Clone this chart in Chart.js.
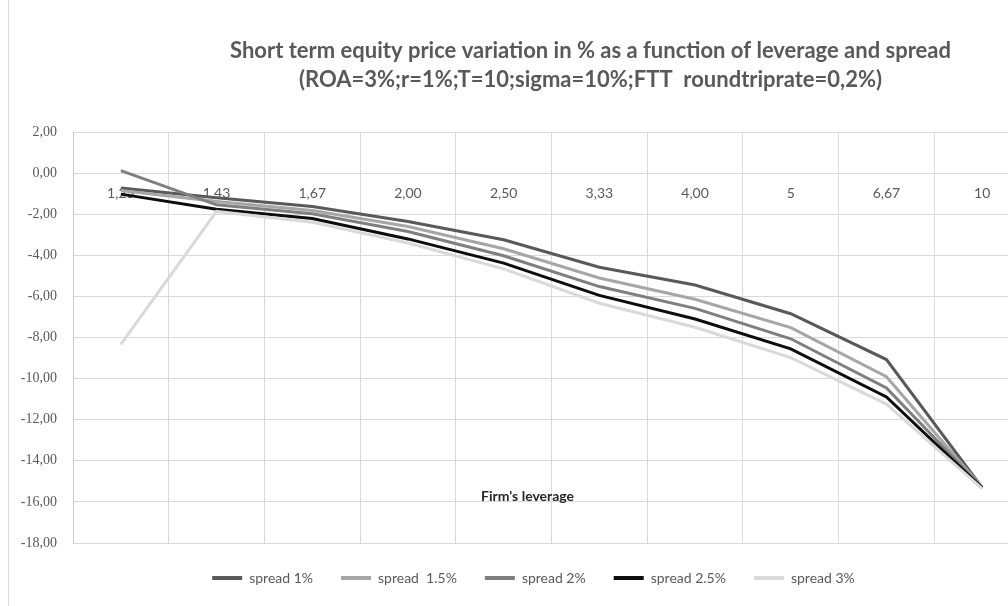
<!DOCTYPE html>
<html>
<head>
<meta charset="utf-8">
<script src="https://cdn.jsdelivr.net/npm/chart.js@4.4.1/dist/chart.umd.min.js"></script>
<style>
	body{margin:0;background:#fff;overflow:hidden;width:1008px;height:606px;}
	#box{position:absolute;left:8px;top:0;width:1163px;height:606px;border-left:1px solid #d9d9d9;}
</style>
</head>
<body>
<div id="box"><canvas id="chart"></canvas></div>
<script>
	// firm's leverage (category labels, as printed)
	var labels = ["1,25","1,43","1,67","2,00","2,50","3,33","4,00","5","6,67","10"];
	var spread1 = [-0.72,-1.20,-1.62,-2.35,-3.24,-4.58,-5.44,-6.84,-9.07,-15.30];
	var spread15 = [-0.84,-1.38,-1.82,-2.60,-3.68,-5.10,-6.14,-7.52,-9.91,-15.30];
	var spread2 = [0.12,-1.54,-1.98,-2.84,-4.02,-5.52,-6.58,-8.06,-10.45,-15.30];
	var spread25 = [-1.02,-1.76,-2.21,-3.20,-4.38,-5.95,-7.10,-8.55,-10.89,-15.32];
	var spread3 = [-8.33,-1.86,-2.39,-3.40,-4.66,-6.33,-7.50,-8.98,-11.24,-15.35];
	var seriesNames = ["spread 1%","spread  1.5%","spread 2%","spread 2.5%","spread 3%"];
	var seriesColors = ["#595959","#a6a6a6","#7f7f7f","#0d0d0d","#d9d9d9"];
	var yTicks = [2,0,-2,-4,-6,-8,-10,-12,-14,-16,-18];
	var titleLines = ["Short term equity price variation in % as a function of leverage and spread","(ROA=3%;r=1%;T=10;sigma=10%;FTT  roundtriprate=0,2%)"];
	var xTitle = "Firm's leverage";

	var allSeries = [spread1,spread15,spread2,spread25,spread3];
	var datasets = [];
	for(var i = 0;i<allSeries.length;i++){
		datasets.push({
			label:seriesNames[i],
			data:allSeries[i],
			borderColor:seriesColors[i],
			backgroundColor:seriesColors[i],
			borderWidth:3,
			pointRadius:0,
			tension:0,
			order:allSeries.length-i
		});
	}

	// axis title sits inside the plot, like the original
	var axisNote = {
		id:"axisNote",
		afterDatasetsDraw:function(chart){
			var ctx = chart.ctx;
			ctx.save();
			ctx.font = "bold 14px Lato";
			ctx.fillStyle = "#262626";
			ctx.textAlign = "center";
			ctx.textBaseline = "middle";
			ctx.fillText(xTitle,chart.scales.x.getPixelForValue(4.25),chart.scales.y.getPixelForValue(-15.75));
			ctx.restore();
		}
	};
	// legend is centred a little left of the plot in the original
	var legendNudge = {
		id:"legendNudge",
		afterLayout:function(chart){
			chart.legend.left -= 18;
			chart.legend.right -= 18;
		}
	};

	new Chart(document.getElementById("chart"),{
		type:"line",
		data:{labels:labels,datasets:datasets},
		plugins:[axisNote,legendNudge],
		options:{
			responsive:true,
			maintainAspectRatio:false,
			animation:false,
			layout:{padding:{bottom:11}},
			plugins:{
				tooltip:{enabled:false},
				title:{
					display:true,
					text:titleLines,
					color:"#595959",
					font:{family:"Lato",size:22,weight:"bold",lineHeight:1.32},
					padding:{top:36,bottom:38}
				},
				legend:{
					position:"bottom",
					fullSize:false,
					labels:{
						color:"#595959",
						font:{family:"Lato",size:14},
						boxWidth:30,
						boxHeight:4,
						padding:28,
						sort:function(a,b){return a.datasetIndex-b.datasetIndex;},
						generateLabels:function(chart){
							var items = Chart.defaults.plugins.legend.labels.generateLabels(chart);
							items.forEach(function(it){it.fillStyle = it.strokeStyle;it.lineWidth = 0;});
							return items;
						}
					}
				}
			},
			scales:{
				x:{
					position:{y:0},
					offset:true,
					grid:{offset:true,color:"#d9d9d9",drawTicks:false},
					border:{color:"#d9d9d9"},
					ticks:{color:"#595959",font:{family:"Lato",size:14},padding:12,maxRotation:0,autoSkip:false}
				},
				y:{
					min:yTicks[yTicks.length-1],
					max:yTicks[0],
					afterBuildTicks:function(s){s.ticks = yTicks.map(function(v){return {value:v};});},
					afterFit:function(s){s.width = 64;},
					grid:{color:"#d9d9d9",drawTicks:false},
					border:{color:"#c8c8c8"},
					ticks:{
						color:"#595959",
						font:{family:"Liberation Serif",size:14},
						padding:16,
						callback:function(v){return v.toFixed(2).replace(".",",");}
					}
				},
				yRight:{
					position:"right",
					display:true,
					grid:{display:false},
					border:{display:false},
					ticks:{display:false},
					afterFit:function(s){s.width = 142;}
				}
			}
		}
	});
</script>
</body>
</html>
